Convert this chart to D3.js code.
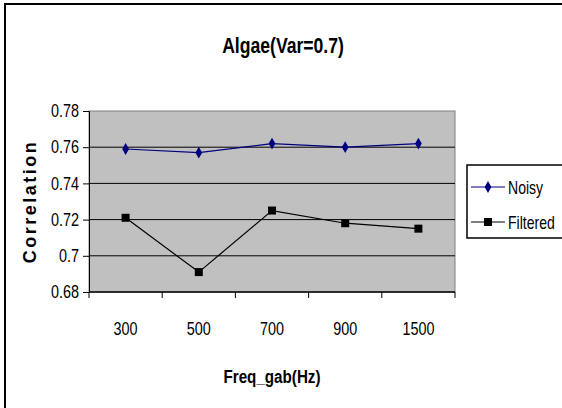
<!DOCTYPE html>
<html lang="en">
<head>
<meta charset="utf-8">
<title>Algae(Var=0.7)</title>
<style>
body{
  margin: 0;
  background: #fff;
}
svg text{
  font-family: "Liberation Sans", Arial, sans-serif;
  fill: #000;
}
</style>
</head>
<body>
<div id="chart"></div>
<script src="https://d3js.org/d3.v7.min.js"></script>
<script>

const categories = ["300", "500", "700", "900", "1500"];
const noisy = [0.759, 0.757, 0.762, 0.760, 0.762];
const filtered = [0.721, 0.691, 0.725, 0.718, 0.715];
const yTicks = [0.68, 0.7, 0.72, 0.74, 0.76, 0.78];

const width = 562;
const height = 408;
const plot = { left: 89, right: 455, top: 111, bottom: 292 };

// squeeze text horizontally around its anchor, the original uses a narrow face
function condense(sel, k) {
  sel.each(function() {
    const t = d3.select(this);
    const x = +t.attr('x') || 0;
    const y = +t.attr('y') || 0;
    t.attr('x', 0).attr('y', 0)
      .attr('transform', 'translate(' + x + ',' + y + ') scale(' + k + ',1)');
  });
}

const svg = d3.select('#chart')
  .append('svg')
  .attr('width', width)
  .attr('height', height);

// outer chart border (right and bottom edges fall outside the picture)
svg.append('rect')
  .attr('x', 5).attr('y', 4)
  .attr('width', width + 10).attr('height', height + 10)
  .attr('fill', 'none')
  .attr('stroke', '#000')
  .attr('stroke-width', 2);

const xS = d3.scaleBand()
  .domain(categories)
  .range([plot.left, plot.right]);

const yS = d3.scaleLinear()
  .domain([0.68, 0.78])
  .range([plot.bottom, plot.top]);

// plot background
svg.append('rect')
  .attr('x', plot.left).attr('y', plot.top)
  .attr('width', plot.right - plot.left)
  .attr('height', plot.bottom - plot.top)
  .attr('fill', '#c0c0c0')
  .attr('stroke', '#808080')
  .attr('stroke-width', 1);

// gridlines
svg.append('g')
  .selectAll('line')
  .data(yTicks.slice(1, -1))
  .join('line')
  .attr('x1', plot.left).attr('x2', plot.right)
  .attr('y1', d => yS(d)).attr('y2', d => yS(d))
  .attr('stroke', '#000')
  .attr('stroke-width', 1);

// y axis
const yAxis = svg.append('g')
  .attr('transform', 'translate(' + plot.left + ',0)')
  .call(d3.axisLeft(yS).tickValues(yTicks).tickFormat(d => String(+d.toFixed(2))).tickSize(6).tickPadding(4));
yAxis.select('.domain').attr('stroke', '#000');
yAxis.selectAll('text')
  .attr('font-family', null)
  .attr('font-size', null)
  .style('font-size', '18px')
  .call(condense, 0.8);

// x axis with ticks between categories
const xAxis = svg.append('g')
  .attr('transform', 'translate(0,' + plot.bottom + ')');
xAxis.append('line')
  .attr('x1', plot.left).attr('x2', plot.right)
  .attr('stroke', '#000').attr('stroke-width', 1.5);
xAxis.selectAll('line.tick')
  .data(categories.concat(['end']))
  .join('line')
  .attr('class', 'tick')
  .attr('x1', (d, i) => i < categories.length ? xS(d) : plot.right)
  .attr('x2', (d, i) => i < categories.length ? xS(d) : plot.right)
  .attr('y1', 0).attr('y2', 6)
  .attr('stroke', '#000');
xAxis.selectAll('text')
  .data(categories)
  .join('text')
  .attr('x', d => xS(d) + xS.bandwidth() / 2)
  .attr('y', 43)
  .attr('text-anchor', 'middle')
  .style('font-size', '18px')
  .text(d => d)
  .call(condense, 0.8);

// lines
const line = d3.line()
  .x((d, i) => xS(categories[i]) + xS.bandwidth() / 2)
  .y(d => yS(d));

svg.append('path')
  .datum(noisy)
  .attr('d', line)
  .attr('fill', 'none')
  .attr('stroke', '#000080')
  .attr('stroke-width', 1.2);

svg.append('path')
  .datum(filtered)
  .attr('d', line)
  .attr('fill', 'none')
  .attr('stroke', '#000')
  .attr('stroke-width', 1.2);

const diamond = d3.symbol().type(d3.symbolDiamond).size(40);

svg.append('g')
  .selectAll('path')
  .data(noisy)
  .join('path')
  .attr('d', diamond)
  .attr('transform', (d, i) => 'translate(' + (xS(categories[i]) + xS.bandwidth() / 2) + ',' + yS(d) + ')')
  .attr('fill', '#000080');

svg.append('g')
  .selectAll('rect')
  .data(filtered)
  .join('rect')
  .attr('x', (d, i) => xS(categories[i]) + xS.bandwidth() / 2 - 4)
  .attr('y', d => yS(d) - 4)
  .attr('width', 8).attr('height', 8)
  .attr('fill', '#000');

// title
svg.append('text')
  .attr('x', 283).attr('y', 53)
  .attr('text-anchor', 'middle')
  .style('font-size', '22px')
  .style('font-weight', 'bold')
  .text('Algae(Var=0.7)')
  .call(condense, 0.8);

// y label
svg.append('text')
  .attr('transform', 'translate(36,' + ((plot.top + plot.bottom) / 2) + ') rotate(-90)')
  .attr('text-anchor', 'middle')
  .style('font-size', '18px')
  .style('font-weight', 'bold')
  .style('letter-spacing', '2.5px')
  .text('Correlation');

// x label
svg.append('text')
  .attr('x', 272).attr('y', 383)
  .attr('text-anchor', 'middle')
  .style('font-size', '19px')
  .style('font-weight', 'bold')
  .text('Freq_gab(Hz)')
  .call(condense, 0.8);

// legend
const legend = svg.append('g');
legend.append('rect')
  .attr('x', 467).attr('y', 165)
  .attr('width', 110).attr('height', 73)
  .attr('fill', '#fff')
  .attr('stroke', '#000')
  .attr('stroke-width', 1.5);

const legendItems = [
  { name: 'Noisy', color: '#000080', y: 187 },
  { name: 'Filtered', color: '#000', y: 222 }
];
legendItems.forEach((item, i) => {
  legend.append('line')
    .attr('x1', 471).attr('x2', 505)
    .attr('y1', item.y).attr('y2', item.y)
    .attr('stroke', item.color).attr('stroke-width', 1.2);
  if (i === 0) {
    legend.append('path')
      .attr('d', diamond)
      .attr('transform', 'translate(488,' + item.y + ')')
      .attr('fill', item.color);
  } else {
    legend.append('rect')
      .attr('x', 484).attr('y', item.y - 4)
      .attr('width', 8).attr('height', 8)
      .attr('fill', item.color);
  }
  legend.append('text')
    .attr('x', 508).attr('y', item.y + 7)
    .style('font-size', '18px')
    .text(item.name)
    .call(condense, 0.78);
});

</script>
</body>
</html>
